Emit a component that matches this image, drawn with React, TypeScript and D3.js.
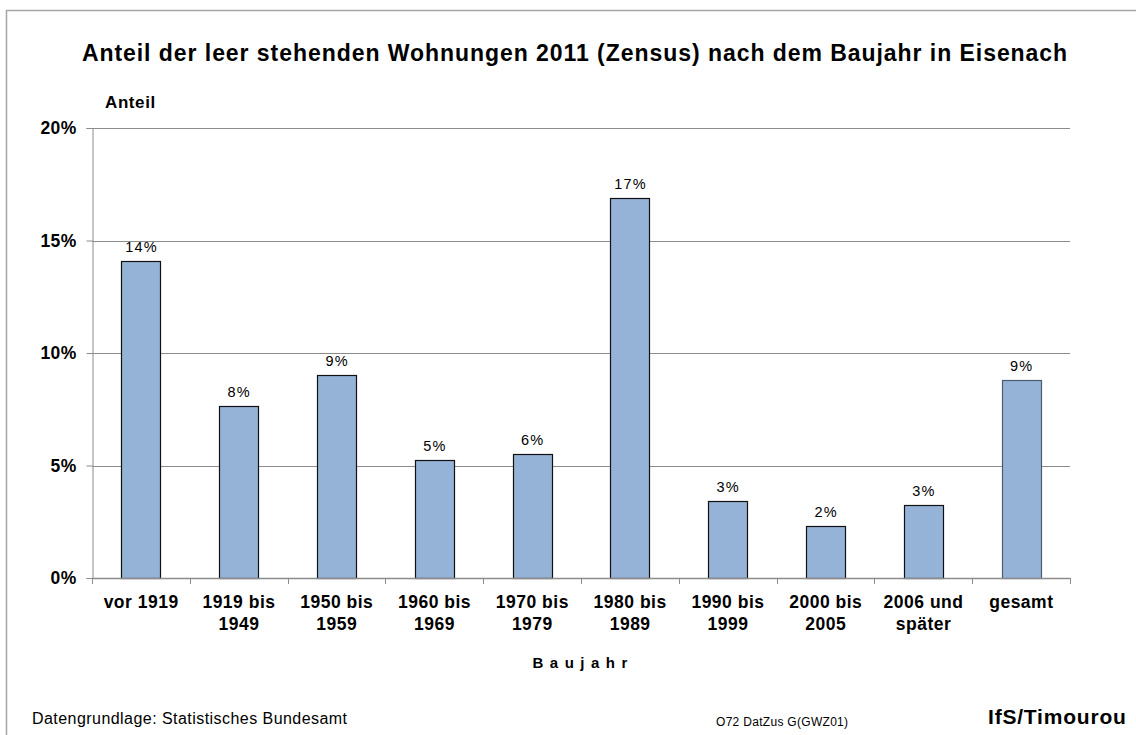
import React, { useEffect, useRef } from 'react';
import * as d3 from 'd3';

// Baujahr categories (two-line labels)
const categories: string[][] = [
  ['vor 1919'],
  ['1919 bis', '1949'],
  ['1950 bis', '1959'],
  ['1960 bis', '1969'],
  ['1970 bis', '1979'],
  ['1980 bis', '1989'],
  ['1990 bis', '1999'],
  ['2000 bis', '2005'],
  ['2006 und', 'später'],
  ['gesamt'],
];

// Share of vacant flats, in percent
const shares: number[] = [14.1, 7.64, 9.02, 5.24, 5.51, 16.89, 3.42, 2.31, 3.26, 8.79];

const yTicks: number[] = [0, 5, 10, 15, 20];

const WIDTH = 1136;
const HEIGHT = 735;
const FONT = "'Liberation Sans', Arial, sans-serif";

const App: React.FC = () => {
  const svgRef = useRef<SVGSVGElement>(null);

  useEffect(() => {
    document.body.style.margin = '0';
    if (!svgRef.current) return;

    const svg = d3.select(svgRef.current);
    svg.selectAll('*').remove();

    const plot = { left: 92, right: 1070, top: 128, bottom: 578 };

    const x = d3.scaleBand<number>()
      .domain(d3.range(categories.length))
      .range([plot.left, plot.right])
      .paddingInner(0.6)
      .paddingOuter(0.3);

    const y = d3.scaleLinear()
      .domain([0, 20])
      .range([plot.bottom, plot.top]);

    // outer frame
    svg.append('path')
      .attr('d', `M6.5,${HEIGHT + 2} V10.5 H${WIDTH + 2}`)
      .attr('fill', 'none')
      .attr('stroke', '#a6a6a6')
      .attr('stroke-width', 1.5);

    // title
    svg.append('text')
      .attr('x', 575)
      .attr('y', 61)
      .attr('text-anchor', 'middle')
      .attr('font-family', FONT)
      .attr('font-size', 23)
      .attr('font-weight', 'bold')
      .attr('letter-spacing', '0.95px')
      .attr('fill', '#000')
      .text('Anteil der leer stehenden Wohnungen 2011 (Zensus) nach dem Baujahr in Eisenach');

    // y axis title
    svg.append('text')
      .attr('x', 105)
      .attr('y', 108)
      .attr('font-family', FONT)
      .attr('font-size', 17)
      .attr('font-weight', 'bold')
      .attr('letter-spacing', '0.6px')
      .text('Anteil');

    // gridlines
    svg.append('g')
      .selectAll('line')
      .data(yTicks.filter(t => t > 0))
      .enter()
      .append('line')
      .attr('x1', plot.left)
      .attr('x2', plot.right)
      .attr('y1', d => Math.round(y(d)) + 0.5)
      .attr('y2', d => Math.round(y(d)) + 0.5)
      .attr('stroke', '#8c8c8c')
      .attr('stroke-width', 1);

    // y axis
    const yAxis = svg.append('g')
      .attr('transform', `translate(${plot.left + 0.5},0)`)
      .call(
        d3.axisLeft(y)
          .tickValues(yTicks)
          .tickSize(6)
          .tickPadding(10)
          .tickFormat(d => `${d}%`)
      );
    yAxis.select('.domain').attr('stroke', '#8c8c8c');
    yAxis.selectAll('.tick line').attr('stroke', '#8c8c8c');
    yAxis.selectAll('.tick text')
      .attr('font-family', FONT)
      .attr('font-size', 17.5)
      .attr('font-weight', 'bold')
      .attr('letter-spacing', '0.3px')
      .attr('fill', '#000');

    // bars
    svg.append('g')
      .selectAll('rect')
      .data(shares)
      .enter()
      .append('rect')
      .attr('x', (_, i) => Math.round(x(i)!) + 0.5)
      .attr('y', d => Math.round(y(d)) + 0.5)
      .attr('width', Math.round(x.bandwidth()))
      .attr('height', d => plot.bottom - Math.round(y(d)))
      .attr('fill', '#95b3d7')
      .attr('stroke', (_, i) => (i === categories.length - 1 ? '#4a5b72' : '#111'))
      .attr('stroke-width', 1.2);

    // value labels
    svg.append('g')
      .selectAll('text')
      .data(shares)
      .enter()
      .append('text')
      .attr('x', (_, i) => x(i)! + x.bandwidth() / 2 + 0.6)
      .attr('y', d => y(d) - 9)
      .attr('text-anchor', 'middle')
      .attr('font-family', FONT)
      .attr('font-size', 14.5)
      .attr('letter-spacing', '1.2px')
      .attr('fill', '#000')
      .text(d => `${Math.round(d)}%`);

    // x axis
    const xAxisG = svg.append('g');
    xAxisG.append('line')
      .attr('x1', plot.left)
      .attr('x2', plot.right)
      .attr('y1', plot.bottom + 0.5)
      .attr('y2', plot.bottom + 0.5)
      .attr('stroke', '#8c8c8c')
      .attr('stroke-width', 1.5);
    const step = x.step();
    xAxisG.selectAll('.xtick')
      .data(d3.range(categories.length + 1))
      .enter()
      .append('line')
      .attr('class', 'xtick')
      .attr('x1', i => Math.round(plot.left + i * step) + 0.5)
      .attr('x2', i => Math.round(plot.left + i * step) + 0.5)
      .attr('y1', plot.bottom)
      .attr('y2', plot.bottom + 6)
      .attr('stroke', '#8c8c8c');

    const labels = xAxisG.selectAll('.xlabel')
      .data(categories)
      .enter()
      .append('text')
      .attr('class', 'xlabel')
      .attr('text-anchor', 'middle')
      .attr('font-family', FONT)
      .attr('font-size', 17.5)
      .attr('font-weight', 'bold')
      .attr('letter-spacing', '0.5px')
      .attr('fill', '#000');
    labels.selectAll('tspan')
      .data((d, i) => d.map(line => ({ line, i })))
      .enter()
      .append('tspan')
      .attr('x', d => x(d.i)! + x.bandwidth() / 2 + 0.25)
      .attr('y', (_, j) => 608 + j * 22)
      .text(d => d.line);

    // x axis title
    svg.append('text')
      .attr('x', 580 + 3.2)
      .attr('y', 668)
      .attr('text-anchor', 'middle')
      .attr('font-family', FONT)
      .attr('font-size', 15)
      .attr('font-weight', 'bold')
      .attr('letter-spacing', '6.5px')
      .text('Baujahr');

    // footer
    svg.append('text')
      .attr('x', 32)
      .attr('y', 724)
      .attr('font-family', FONT)
      .attr('font-size', 16)
      .attr('letter-spacing', '0.45px')
      .text('Datengrundlage: Statistisches Bundesamt');

    svg.append('text')
      .attr('x', 716)
      .attr('y', 726)
      .attr('font-family', FONT)
      .attr('font-size', 12)
      .attr('letter-spacing', '0.3px')
      .text('O72 DatZus G(GWZ01)');

    svg.append('text')
      .attr('x', 988)
      .attr('y', 724)
      .attr('font-family', FONT)
      .attr('font-size', 21)
      .attr('font-weight', 'bold')
      .attr('letter-spacing', '0.8px')
      .text('IfS/Timourou');
  }, []);

  return (
    <svg
      ref={svgRef}
      width={WIDTH}
      height={HEIGHT}
      style={{ display: 'block', background: '#fff' }}
    />
  );
};

export default App;
